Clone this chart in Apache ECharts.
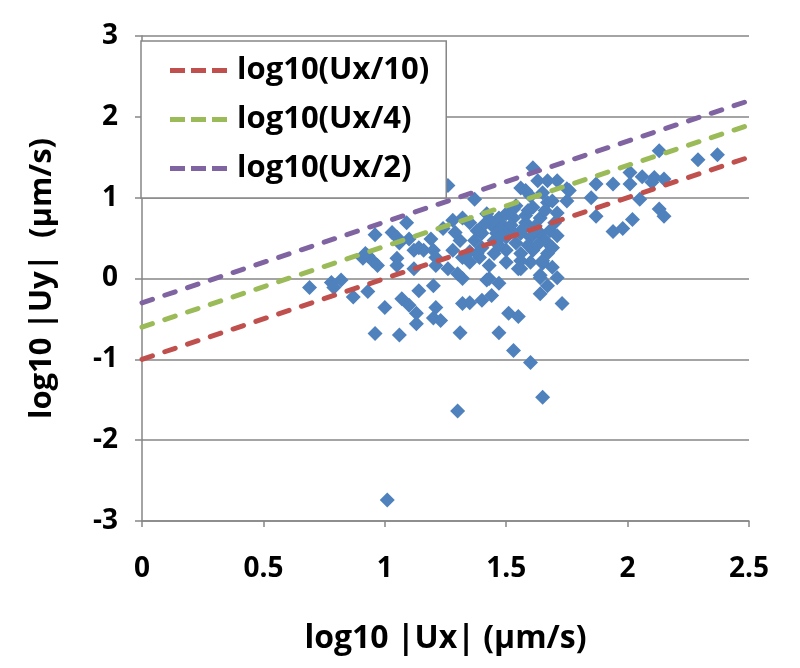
<!DOCTYPE html>
<html>
<head>
<meta charset="utf-8">
<script src="https://cdn.jsdelivr.net/npm/echarts@6/dist/echarts.min.js"></script>
<style>html,body{margin:0;padding:0;background:#fff}#c{width:800px;height:668px}</style>
</head>
<body>
<div id="c"></div>
<script>
// Scatter data: log10|Ux| and log10|Uy|
var uxLog = [0.69,0.78,0.82,0.79,0.87,0.93,0.96,1.03,1.09,1.05,1.06,0.93,0.95,0.97,0.91,1.05,1.05,1.12,1.12,1.00,
  1.07,1.10,1.13,0.96,1.06,1.14,1.13,1.20,1.21,1.20,1.23,1.31,1.26,1.37,1.14,1.19,1.16,1.20,1.28,1.21,
  1.32,1.38,1.21,1.26,1.30,1.32,1.42,1.24,1.28,1.32,1.35,1.38,1.40,1.32,1.35,1.40,1.44,1.47,1.43,1.47,
  1.51,1.55,1.53,1.60,1.65,1.30,1.01,1.64,1.67,1.73,1.55,1.64,1.65,1.69,1.71,1.69,1.65,1.61,1.63,1.67,
  1.71,1.56,1.58,1.65,1.67,1.75,1.76,1.75,1.87,1.94,2.01,2.06,2.01,2.11,2.15,2.10,1.85,2.05,1.87,2.02,
  1.94,1.98,2.13,2.15,2.13,2.29,2.37,1.45,1.47,1.50,1.53,1.59,1.61,1.64,1.40,1.45,1.50,1.56,1.60,1.64,
  1.68,1.69,1.39,1.45,1.50,1.56,1.61,1.67,1.56,1.64,1.42,1.39,1.43,1.46,1.49,1.52,1.54,1.58,1.59,1.62,
  1.66,1.70,1.71,1.47,1.54,1.66,1.56,1.60,1.50,1.43,1.37,1.35,1.31,1.29,1.71,1.69,1.60,0.92,1.10,
  1.44,1.52,1.57,1.63,1.48,1.41,1.53,1.62,1.35,1.58];
var uyLog = [-0.11,-0.05,-0.02,-0.11,-0.23,-0.16,0.54,0.57,0.69,0.51,0.44,0.28,0.22,0.16,0.25,0.25,0.16,0.12,0.35,-0.36,
  -0.25,-0.33,-0.43,-0.68,-0.70,-0.15,-0.56,-0.09,-0.36,-0.49,-0.52,-0.67,1.15,0.98,0.38,0.49,0.35,0.35,0.35,0.26,
  0.26,0.31,0.16,0.12,0.06,0.00,-0.02,0.62,0.72,0.75,0.69,0.59,0.56,-0.31,-0.30,-0.27,-0.21,-0.06,0.00,-0.67,
  -0.43,-0.47,-0.89,-1.04,-1.47,-1.64,-2.74,-0.19,-0.09,-0.31,0.12,0.04,0.19,0.14,0.01,0.38,0.22,1.37,1.21,1.21,
  1.21,1.12,1.09,1.06,0.94,1.11,1.09,0.96,1.17,1.17,1.31,1.26,1.17,1.25,1.23,1.19,1.00,0.98,0.77,0.73,
  0.58,0.62,0.86,0.77,1.58,1.47,1.53,0.63,0.75,0.80,0.75,0.84,0.88,0.75,0.38,0.47,0.51,0.56,0.51,0.56,
  0.59,0.38,0.26,0.31,0.35,0.31,0.35,0.31,0.12,0.01,0.80,0.59,0.72,0.56,0.65,0.59,0.44,0.69,0.41,0.65,
  0.47,0.69,0.53,0.41,0.90,0.84,0.22,0.20,0.20,0.16,0.47,0.20,0.47,0.57,0.81,0.96,1.02,0.31,0.49,
  0.70,0.66,0.62,0.42,0.53,0.67,0.86,0.60,0.33,0.78];
var lineX = [0, 2.5];
var lineNames = ['log10(Ux/10)', 'log10(Ux/4)', 'log10(Ux/2)'];
var lineOffsets = [-1, -0.602, -0.301];
var xTicks = [0, 0.5, 1, 1.5, 2, 2.5];
var yTicks = [-3, -2, -1, 0, 1, 2, 3];

var lineColors = ['#C0504D', '#9BBB59', '#8064A2'];
var FONT = 'Open Sans';
var dashIcon = 'path://M0,0h15v5h-15z M21,0h15v5h-15z M42,0h15v5h-15z';
var pts = uxLog.map(function (v, i) { return [v, uyLog[i]]; });
var series = [];
lineNames.forEach(function (n, k) {
  series.push({
    name: n, type: 'line', symbol: 'none', silent: true, z: 3,
    data: lineX.map(function (x) { return [x, x + lineOffsets[k]]; }),
    lineStyle: { color: lineColors[k], width: 5, type: [11, 13], cap: 'round' },
    itemStyle: { color: lineColors[k] }
  });
});
series.push({
  name: 'data', type: 'scatter', symbol: 'diamond', symbolSize: 15, z: 2,
  data: pts, itemStyle: { color: '#4F81BD', opacity: 1 }
});

var chart = echarts.init(document.getElementById('c'), null, { renderer: 'canvas' });
chart.setOption({
  animation: false,
  backgroundColor: '#fff',
  grid: { left: 142, right: 51, top: 36, bottom: 147, containLabel: false },
  legend: {
    data: lineNames.map(function (n) { return { name: n, icon: dashIcon }; }),
    orient: 'vertical', left: 141, top: 41,
    backgroundColor: '#fff', borderColor: '#868686', borderWidth: 1.5,
    padding: [14, 17, 14, 29], itemGap: 18, itemWidth: 57, itemHeight: 5,
    textStyle: { fontFamily: FONT, fontWeight: 'bold', fontSize: 31, color: '#000', padding: [0, 0, 0, 5] }
  },
  xAxis: {
    type: 'value', min: 0, max: 2.5, interval: 0.5,
    name: 'log10 |Ux| (µm/s)', nameLocation: 'middle', nameGap: 102,
    nameTextStyle: { fontFamily: FONT, fontWeight: 'bold', fontSize: 32, color: '#000' },
    axisLine: { onZero: false, lineStyle: { color: '#868686', width: 1.5 } },
    axisTick: { show: true, length: 6, inside: false, lineStyle: { color: '#868686', width: 1.5 } },
    axisLabel: { fontFamily: FONT, fontWeight: 'bold', fontSize: 28, color: '#000', margin: 34,
      formatter: function (v) { return xTicks.indexOf(v) >= 0 ? String(v) : ''; } },
    splitLine: { show: false }
  },
  yAxis: {
    type: 'value', min: -3, max: 3, interval: 1,
    name: 'log10 |Uy|  (µm/s)', nameLocation: 'middle', nameGap: 84,
    nameTextStyle: { fontFamily: FONT, fontWeight: 'bold', fontSize: 31, color: '#000' },
    axisLine: { show: true, onZero: false, lineStyle: { color: '#868686', width: 1.5 } },
    axisTick: { show: true, length: 7, lineStyle: { color: '#868686', width: 1.5 } },
    axisLabel: { fontFamily: FONT, fontWeight: 'bold', fontSize: 28, color: '#000', margin: 24,
      formatter: function (v) { return yTicks.indexOf(v) >= 0 ? String(v) : ''; } },
    splitLine: { show: true, lineStyle: { color: '#868686', width: 1.5 } }
  },
  series: series
});
</script>
</body>
</html>
